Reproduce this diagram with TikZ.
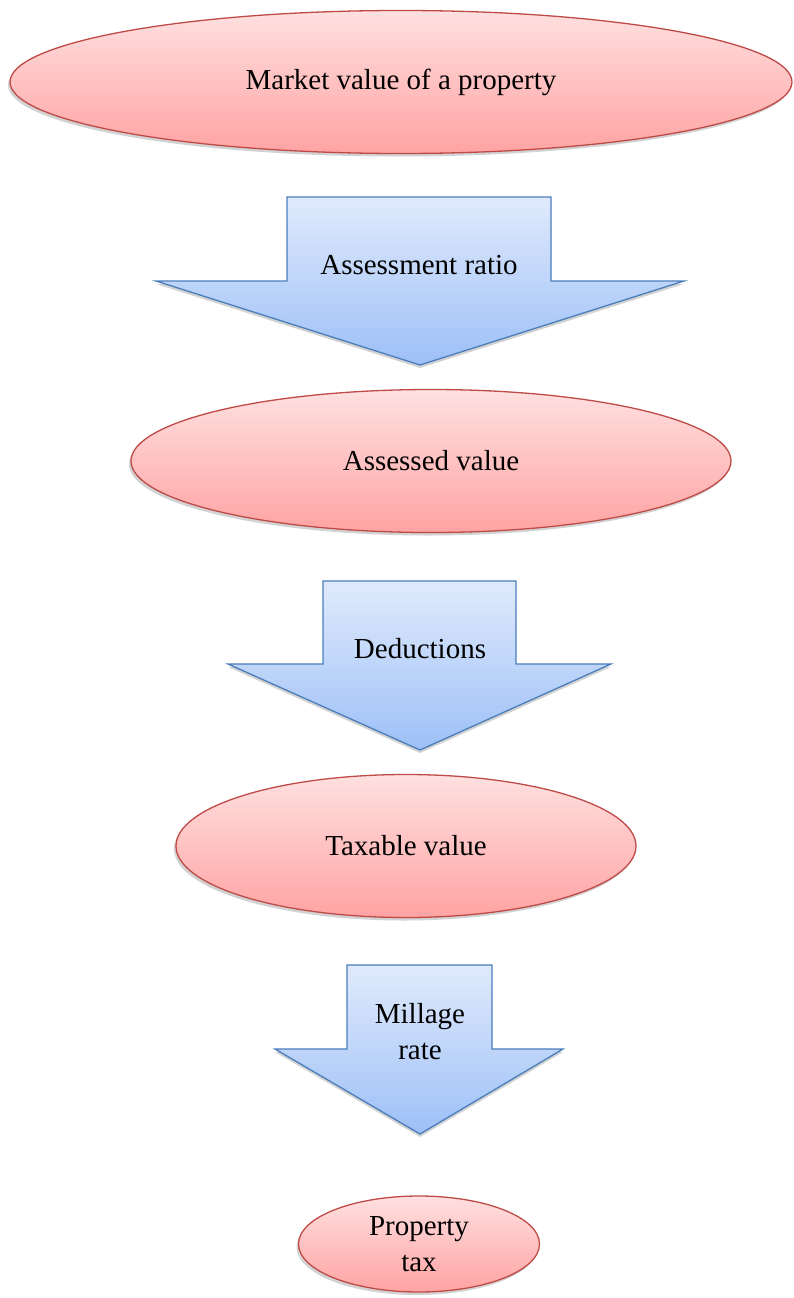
\documentclass[tikz,border=0pt]{standalone}
\usepackage{fontspec}
\setmainfont{Liberation Serif}
\usetikzlibrary{shapes.geometric}
\definecolor{ellTop}{HTML}{FFE0E0}
\definecolor{ellBot}{HTML}{FFA3A3}
\definecolor{ellLine}{HTML}{BE4B48}
\definecolor{arrTop}{HTML}{E0EAFC}
\definecolor{arrBot}{HTML}{9DC0F7}
\definecolor{arrLine}{HTML}{4A7EBB}
\tikzset{
  x=1pt, y=-1pt,
  ellbox/.style={ellipse, draw=ellLine, line width=1.3pt, top color=ellTop, bottom color=ellBot, inner sep=0pt, align=center,
    font=\fontsize{29}{36}\selectfont},
  ellshadow/.style={ellipse, fill=black!35, opacity=0.5, inner sep=0pt},
  arrbody/.style={draw=arrLine, line width=1.3pt, top color=arrTop, bottom color=arrBot, line join=miter},
  arrshadow/.style={fill=black!35, opacity=0.5},
  lbl/.style={align=center, inner sep=0pt, font=\fontsize{29}{36}\selectfont}
}
\begin{document}
\begin{tikzpicture}
\useasboundingbox (0,0) rectangle (793,1298);
% ellipse shadows
\node[ellshadow, minimum width=782, minimum height=143] at (399,85) {};
\node[ellshadow, minimum width=600, minimum height=143] at (429,464) {};
\node[ellshadow, minimum width=460, minimum height=143] at (404,849) {};
\node[ellshadow, minimum width=241, minimum height=96] at (417,1247) {};
% ellipses
\node[ellbox, minimum width=782, minimum height=143] (market) at (401,82) {Market value of a property};
\node[ellbox, minimum width=600, minimum height=143] (assessed) at (431,461) {Assessed value};
\node[ellbox, minimum width=460, minimum height=143] (taxable) at (406,846) {Taxable value};
\node[ellbox, minimum width=241, minimum height=96] (tax) at (419,1244) {Property\\tax};
% arrow shadows
\fill[arrshadow] (287,200) -- (551,200) -- (551,284) -- (684,284) -- (420,368) -- (156,284) -- (287,284) -- cycle;
\fill[arrshadow] (323,584) -- (516,584) -- (516,667) -- (611,667) -- (420,753) -- (228,667) -- (323,667) -- cycle;
\fill[arrshadow] (347,968) -- (492,968) -- (492,1052) -- (563,1052) -- (420,1137) -- (275,1052) -- (347,1052) -- cycle;
% arrows
\draw[arrbody] (287,197) -- (551,197) -- (551,281) -- (684,281) -- (420,365) -- (156,281) -- (287,281) -- cycle;
\draw[arrbody] (323,581) -- (516,581) -- (516,664) -- (611,664) -- (420,750) -- (228,664) -- (323,664) -- cycle;
\draw[arrbody] (347,965) -- (492,965) -- (492,1049) -- (563,1049) -- (420,1134) -- (275,1049) -- (347,1049) -- cycle;
% arrow labels
\node[lbl] (ratio) at (419,265) {Assessment ratio};
\node[lbl] (deduct) at (420,649) {Deductions};
\node[lbl] (millage) at (420,1032) {Millage\\rate};
\end{tikzpicture}
\end{document}
